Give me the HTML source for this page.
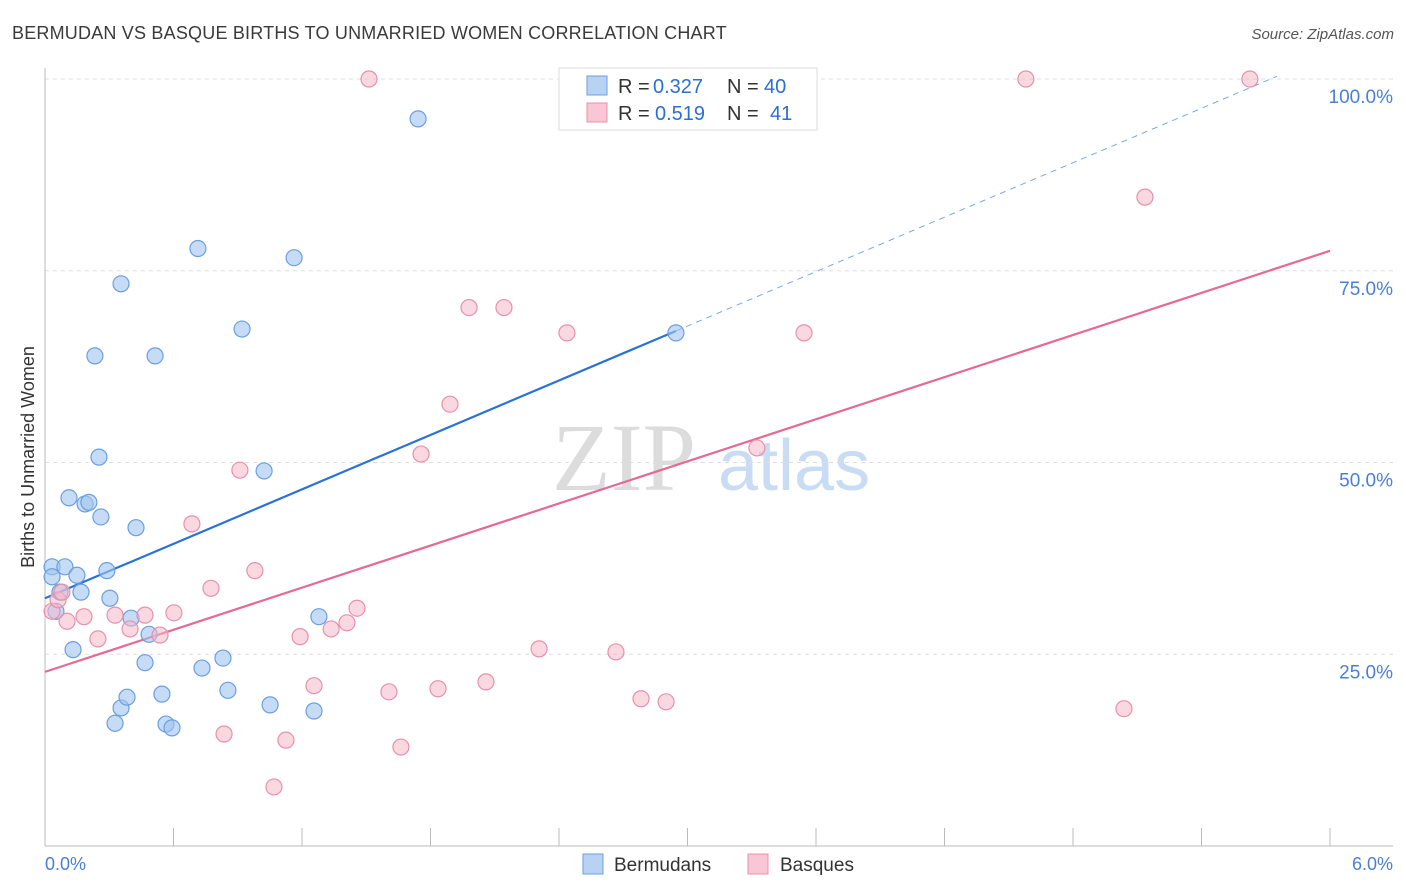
<!DOCTYPE html>
<html><head><meta charset="utf-8"><style>
body{margin:0;background:#fff;font-family:"Liberation Sans",sans-serif}
svg{display:block}
</style></head><body>
<svg id="chart" width="1406" height="892" xmlns="http://www.w3.org/2000/svg">
<text x="12" y="39" font-size="18" fill="#3a3a3a" letter-spacing="0.2">BERMUDAN VS BASQUE BIRTHS TO UNMARRIED WOMEN CORRELATION CHART</text>
<text x="1394" y="39" font-size="15" fill="#555" font-style="italic" text-anchor="end">Source: ZipAtlas.com</text>
<g id="watermark">
<text x="552" y="490" font-size="96" font-family="Liberation Serif,serif" fill="#dcdcdc">ZIP</text>
<text x="718" y="490" font-size="72" fill="#c8dcf3">atlas</text>
</g>
<g id="grid"></g>
<g id="axes"></g>
<g id="lines"></g>
<g id="points"></g>
<text transform="translate(34,457) rotate(-90)" font-size="18" fill="#333" text-anchor="middle">Births to Unmarried Women</text>
<g>
<rect x="559" y="68" width="258" height="62" fill="#fff" stroke="#ddd"/>
<rect x="587" y="76" width="20" height="19" fill="#b7d2f3" stroke="#6a9fe0"/>
<rect x="587" y="103" width="20" height="19" fill="#f8c6d5" stroke="#e890ab"/>
<text x="618" y="93" font-size="20" fill="#333">R =</text>
<text x="653" y="93" font-size="20" fill="#2a6fd6">0.327</text>
<text x="727" y="93" font-size="20" fill="#333">N =</text>
<text x="764" y="93" font-size="20" fill="#2a6fd6">40</text>
<text x="618" y="120" font-size="20" fill="#333">R =</text>
<text x="655" y="120" font-size="20" fill="#2a6fd6">0.519</text>
<text x="727" y="120" font-size="20" fill="#333">N =</text>
<text x="770" y="120" font-size="20" fill="#2a6fd6">41</text>
</g>
<g>
<rect x="583" y="854" width="20" height="20" fill="#b7d2f3" stroke="#6a9fe0"/>
<text x="614" y="871" font-size="19" fill="#333">Bermudans</text>
<rect x="748" y="854" width="20" height="20" fill="#f8c6d5" stroke="#e890ab"/>
<text x="780" y="871" font-size="19" fill="#333">Basques</text>
</g>
</svg>
<script>
const blueX=[0.033,0.033,0.051,0.070,0.093,0.112,0.131,0.149,0.168,0.187,0.205,0.233,0.252,0.261,0.289,0.303,0.327,0.355,0.355,0.383,0.402,0.425,0.467,0.486,0.514,0.546,0.565,0.593,0.714,0.733,0.831,0.854,0.920,1.023,1.051,1.163,1.256,1.279,1.742,2.946];
const blueY=[36.4,35.1,30.6,33.1,36.4,45.4,25.6,35.3,33.1,44.6,44.8,63.9,50.7,42.9,35.9,32.3,16.0,73.3,18.0,19.4,29.7,41.5,23.9,27.6,63.9,19.8,15.9,15.4,77.9,23.2,24.5,20.3,67.4,48.9,18.4,76.7,17.6,29.9,94.8,66.9];
const pinkX=[0.033,0.061,0.079,0.103,0.182,0.247,0.327,0.397,0.467,0.537,0.602,0.686,0.775,0.836,0.910,0.980,1.069,1.125,1.191,1.256,1.336,1.410,1.457,1.513,1.606,1.662,1.756,1.835,1.891,1.980,2.059,2.143,2.307,2.437,2.666,2.783,2.900,3.324,3.544,4.580,5.038,5.136,5.626];
const pinkY=[30.6,32.1,33.1,29.3,29.9,27.0,30.1,28.3,30.1,27.5,30.4,42.0,33.6,14.6,49.0,35.9,7.7,13.8,27.3,20.9,28.3,29.1,31.0,100,20.1,12.9,51.1,20.5,57.6,70.2,21.4,70.2,25.7,66.9,25.3,19.2,18.8,51.9,66.9,100,17.9,84.6,100];
const blueTrend=[32.3,11.83];
const pinkTrend=[22.7,9.15];
const yTicks=[25,50,75,100];
const yTickLabels=["25.0%","50.0%","75.0%","100.0%"];
const xTicks=[0,0.6,1.2,1.8,2.4,3.0,3.6,4.2,4.8,5.4,6.0];

const NS="http://www.w3.org/2000/svg";
const sx=v=>45+v*(1285/6);
const sy=v=>846-v*7.67;
function mk(parent,tag,attrs){const e=document.createElementNS(NS,tag);for(const k in attrs)e.setAttribute(k,attrs[k]);document.getElementById(parent).appendChild(e);return e;}

yTicks.forEach((t,i)=>{
  const g=mk('grid','line',{x1:45,x2:1393,y1:sy(t),y2:sy(t),stroke:'#ddd','stroke-dasharray':'4,4'});
  
  
  const l=mk('grid','text',{x:1393,y:sy(t)+24,'font-size':19,fill:'#4a7fd4','text-anchor':'end'});
  l.textContent=yTickLabels[i];
  
  
});
let a=mk('axes','line',{x1:45,x2:45,y1:68,y2:846,stroke:'#bbb'});


a=mk('axes','line',{x1:45,x2:1393,y1:846,y2:846,stroke:'#bbb'});


xTicks.forEach(t=>{
  const k=mk('axes','line',{x1:sx(t),x2:sx(t),y1:828,y2:846,stroke:'#bbb'});
  
  
});
let xl=mk('axes','text',{x:45,y:870,'font-size':18,fill:'#4a7fd4'});xl.textContent=xTicks[0].toFixed(1)+"%";


xl=mk('axes','text',{x:1393,y:870,'font-size':18,fill:'#4a7fd4','text-anchor':'end'});xl.textContent=xTicks[xTicks.length-1].toFixed(1)+"%";



blueX.forEach((x,i)=>{
  const c=mk('points','circle',{cx:sx(x),cy:sy(blueY[i]),r:8,fill:'rgba(160,196,240,0.6)',stroke:'#6a9fe0','stroke-width':1.2});
  
  
});
pinkX.forEach((x,i)=>{
  const c=mk('points','circle',{cx:sx(x),cy:sy(pinkY[i]),r:8,fill:'rgba(245,184,203,0.55)',stroke:'#e890ab','stroke-width':1.2});
  
  
});
const bx1=Math.max(...blueX), bx2=(100-blueTrend[0])/blueTrend[1]+0.03;
let ln=mk('lines','line',{x1:sx(0),y1:sy(blueTrend[0]),x2:sx(bx1),y2:sy(blueTrend[0]+blueTrend[1]*bx1),stroke:'#2a72d8','stroke-width':2.2});


ln=mk('lines','line',{x1:sx(bx1),y1:sy(blueTrend[0]+blueTrend[1]*bx1),x2:sx(bx2),y2:sy(blueTrend[0]+blueTrend[1]*bx2),stroke:'#7aa6e6','stroke-width':1,'stroke-dasharray':'6,5'});


ln=mk('lines','line',{x1:sx(0),y1:sy(pinkTrend[0]),x2:sx(6),y2:sy(pinkTrend[0]+pinkTrend[1]*6),stroke:'#e46a94','stroke-width':2.2});


</script>
</body></html>
